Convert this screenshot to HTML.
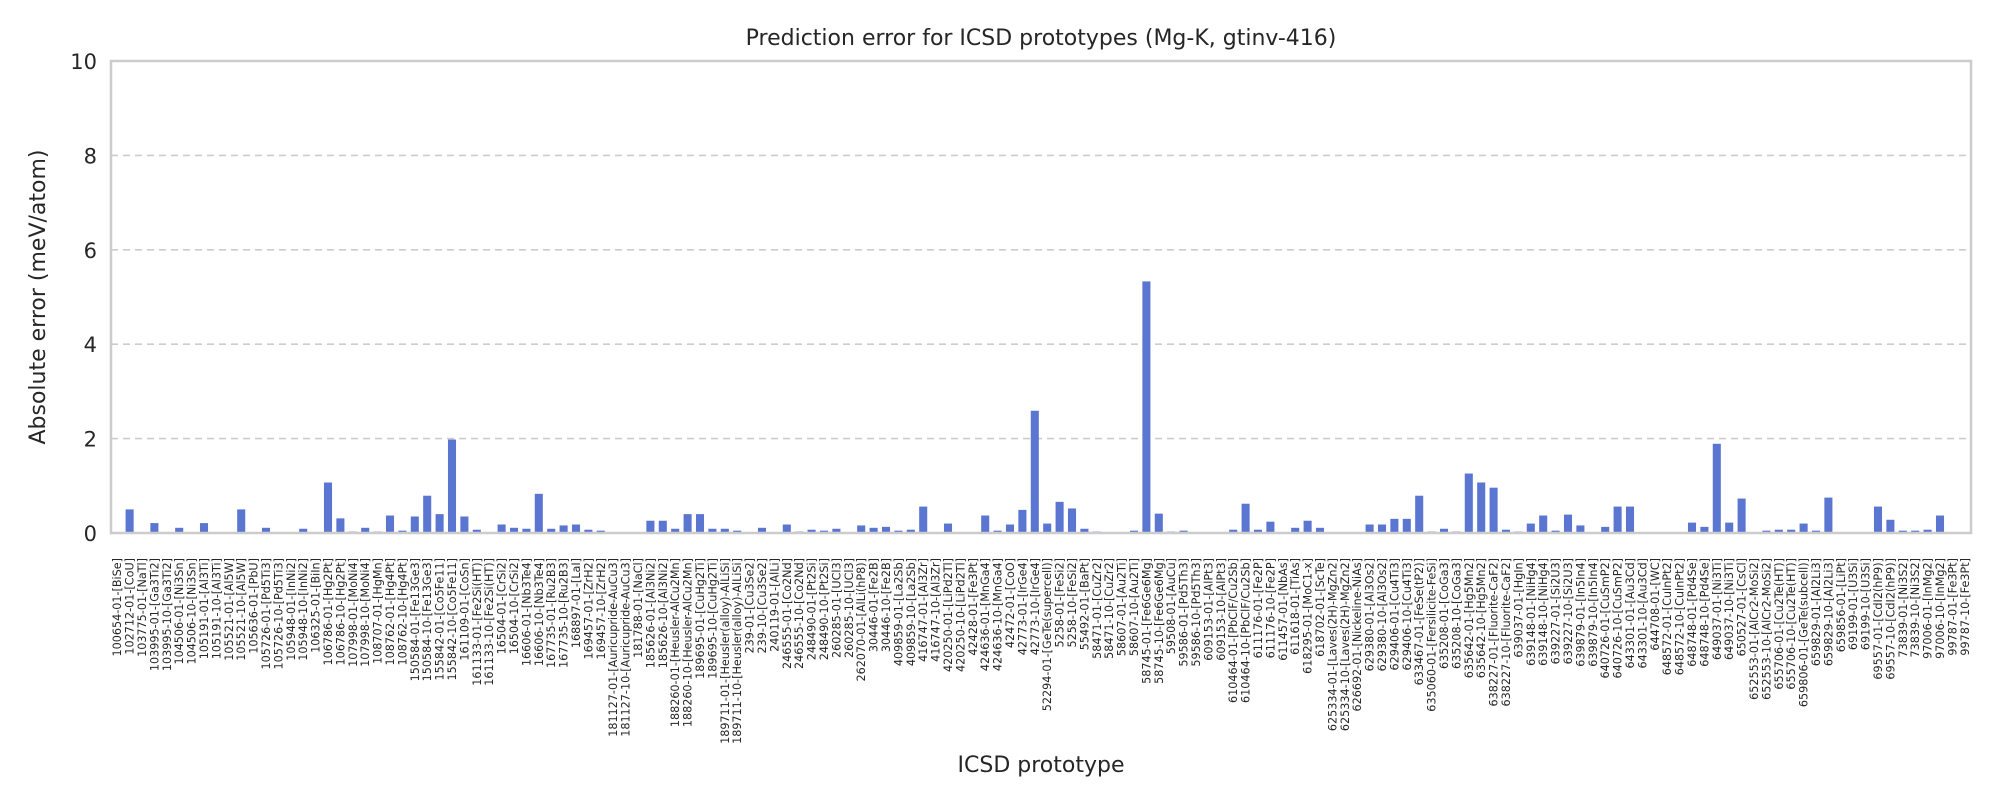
<!DOCTYPE html>
<html><head><meta charset="utf-8">
<style>
html,body{margin:0;padding:0;background:#fff;}
svg{display:block;font-family:"DejaVu Sans","Liberation Sans",sans-serif;}
</style></head>
<body>
<svg id="chart" width="2000" height="800" viewBox="0 0 2000 800" xmlns="http://www.w3.org/2000/svg">
<text x="1041" y="45" font-size="22" text-anchor="middle" fill="#262626">Prediction error for ICSD prototypes (Mg-K, gtinv-416)</text>
<text transform="translate(45,297) rotate(-90)" font-size="22" text-anchor="middle" fill="#262626">Absolute error (meV/atom)</text>
<text x="1041" y="772" font-size="22" text-anchor="middle" fill="#262626">ICSD prototype</text>
<g id="grid"></g>
<g id="bars"></g>
<g id="yticks"></g>
<g id="xticks"></g>
<rect x="111" y="61" width="1860" height="472" fill="none" stroke="#cccccc" stroke-width="2.5"/>
</svg>
<script>
const categories = ["100654-01-[BiSe]","102712-01-[CoU]","103775-01-[NaTl]","103995-01-[Ga3Ti2]","103995-10-[Ga3Ti2]","104506-01-[Ni3Sn]","104506-10-[Ni3Sn]","105191-01-[Al3Ti]","105191-10-[Al3Ti]","105521-01-[Al5W]","105521-10-[Al5W]","105636-01-[PbU]","105726-01-[Pd5Ti3]","105726-10-[Pd5Ti3]","105948-01-[InNi2]","105948-10-[InNi2]","106325-01-[BiIn]","106786-01-[Hg2Pt]","106786-10-[Hg2Pt]","107998-01-[MoNi4]","107998-10-[MoNi4]","108707-01-[HgMn]","108762-01-[Hg4Pt]","108762-10-[Hg4Pt]","150584-01-[Fe13Ge3]","150584-10-[Fe13Ge3]","155842-01-[Co5Fe11]","155842-10-[Co5Fe11]","161109-01-[CoSn]","161133-01-[Fe2Si(HT)]","161133-10-[Fe2Si(HT)]","16504-01-[CrSi2]","16504-10-[CrSi2]","16606-01-[Nb3Te4]","16606-10-[Nb3Te4]","167735-01-[Ru2B3]","167735-10-[Ru2B3]","168897-01-[LaI]","169457-01-[ZrH2]","169457-10-[ZrH2]","181127-01-[Auricupride-AuCu3]","181127-10-[Auricupride-AuCu3]","181788-01-[NaCl]","185626-01-[Al3Ni2]","185626-10-[Al3Ni2]","188260-01-[Heusler-AlCu2Mn]","188260-10-[Heusler-AlCu2Mn]","189695-01-[CuHg2Ti]","189695-10-[CuHg2Ti]","189711-01-[Heusler(alloy)-AlLiSi]","189711-10-[Heusler(alloy)-AlLiSi]","239-01-[Cu3Se2]","239-10-[Cu3Se2]","240119-01-[AlLi]","246555-01-[Co2Nd]","246555-10-[Co2Nd]","248490-01-[Pt2Si]","248490-10-[Pt2Si]","260285-01-[UCl3]","260285-10-[UCl3]","262070-01-[AlLi(hP8)]","30446-01-[Fe2B]","30446-10-[Fe2B]","409859-01-[La2Sb]","409859-10-[La2Sb]","416747-01-[Al3Zr]","416747-10-[Al3Zr]","420250-01-[LiPd2Tl]","420250-10-[LiPd2Tl]","42428-01-[Fe3Pt]","424636-01-[MnGa4]","424636-10-[MnGa4]","42472-01-[CoO]","42773-01-[IrGe4]","42773-10-[IrGe4]","52294-01-[GeTe(supercell)]","5258-01-[FeSi2]","5258-10-[FeSi2]","55492-01-[BaPt]","58471-01-[CuZr2]","58471-10-[CuZr2]","58607-01-[Au2Ti]","58607-10-[Au2Ti]","58745-01-[Fe6Ge6Mg]","58745-10-[Fe6Ge6Mg]","59508-01-[AuCu]","59586-01-[Pd5Th3]","59586-10-[Pd5Th3]","609153-01-[AlPt3]","609153-10-[AlPt3]","610464-01-[PbClF/Cu2Sb]","610464-10-[PbClF/Cu2Sb]","611176-01-[Fe2P]","611176-10-[Fe2P]","611457-01-[NbAs]","611618-01-[TiAs]","618295-01-[MoC1-x]","618702-01-[ScTe]","625334-01-[Laves(2H)-MgZn2]","625334-10-[Laves(2H)-MgZn2]","626692-01-[Nickeline-NiAs]","629380-01-[Al3Os2]","629380-10-[Al3Os2]","629406-01-[Cu4Ti3]","629406-10-[Cu4Ti3]","633467-01-[FeSe(tP2)]","635060-01-[Fersilicite-FeSi]","635208-01-[CoGa3]","635208-10-[CoGa3]","635642-01-[Hg5Mn2]","635642-10-[Hg5Mn2]","638227-01-[Fluorite-CaF2]","638227-10-[Fluorite-CaF2]","639037-01-[HgIn]","639148-01-[NiHg4]","639148-10-[NiHg4]","639227-01-[Si2U3]","639227-10-[Si2U3]","639879-01-[In5In4]","639879-10-[In5In4]","640726-01-[CuSmP2]","640726-10-[CuSmP2]","643301-01-[Au3Cd]","643301-10-[Au3Cd]","644708-01-[WC]","648572-01-[CuInPt2]","648572-10-[CuInPt2]","648748-01-[Pd4Se]","648748-10-[Pd4Se]","649037-01-[Ni3Ti]","649037-10-[Ni3Ti]","650527-01-[CsCl]","652553-01-[AlCr2-MoSi2]","652553-10-[AlCr2-MoSi2]","655706-01-[Cu2Te(HT)]","655706-10-[Cu2Te(HT)]","659806-01-[GeTe(subcell)]","659829-01-[Al2Li3]","659829-10-[Al2Li3]","659856-01-[LiPt]","69199-01-[U3Si]","69199-10-[U3Si]","69557-01-[CdI2(hP9)]","69557-10-[CdI2(hP9)]","73839-01-[Ni3S2]","73839-10-[Ni3S2]","97006-01-[InMg2]","97006-10-[InMg2]","99787-01-[Fe3Pt]","99787-10-[Fe3Pt]"];
const errors = [0,0.5,0,0.21,0.02,0.11,0,0.21,0,0,0.5,0,0.11,0,0,0.09,0,1.07,0.31,0.03,0.11,0.03,0.37,0.05,0.35,0.79,0.40,1.98,0.35,0.07,0,0.18,0.11,0.09,0.83,0.09,0.16,0.18,0.07,0.05,0.01,0.01,0,0.26,0.26,0.09,0.40,0.40,0.09,0.09,0.05,0,0.11,0,0.18,0.03,0.07,0.05,0.09,0,0.16,0.11,0.13,0.05,0.07,0.56,0,0.20,0.01,0,0.37,0.05,0.18,0.49,2.59,0.20,0.66,0.52,0.09,0.03,0,0,0.05,5.33,0.41,0.03,0.05,0,0,0,0.07,0.62,0.07,0.24,0,0.11,0.26,0.11,0,0,0,0.18,0.18,0.30,0.30,0.79,0.03,0.09,0.03,1.26,1.07,0.96,0.07,0.03,0.20,0.37,0.05,0.39,0.16,0,0.13,0.56,0.56,0,0,0,0,0.22,0.13,1.89,0.22,0.73,0,0.05,0.07,0.07,0.20,0.05,0.75,0,0,0,0.56,0.28,0.05,0.05,0.07,0.37,0,0];
const yTicks = [0,2,4,6,8,10];

const NS = "http://www.w3.org/2000/svg";
const L = 111, R = 1971, T = 61, B = 533, YMAX = 10;
const step = (R - L) / categories.length;
function xScale(i){ return L + step * (i + 0.5); }
function yScale(v){ return B - (v / YMAX) * (B - T); }
function mk(tag, attrs){ const e = document.createElementNS(NS, tag); for (const k in attrs) e.setAttribute(k, attrs[k]); return e; }

const grid = document.getElementById('grid');
const yt = document.getElementById('yticks');
yTicks.forEach(v => {
  if (v > 0 && v < YMAX) {
    const ln = mk('line', {x1:L, x2:R, y1:yScale(v), y2:yScale(v), stroke:'#cccccc', 'stroke-width':1.6, 'stroke-dasharray':'7,5'});
    
    
    grid.appendChild(ln);
  }
  const t = mk('text', {x:L - 14, y:yScale(v) + 8, 'font-size':21, 'text-anchor':'end', fill:'#262626'});
  t.textContent = v;
  
  
  yt.appendChild(t);
});

const bars = document.getElementById('bars');
const xt = document.getElementById('xticks');
const bw = step * 0.65;
categories.forEach((c, i) => {
  const v = errors[i];
  const r = mk('rect', {x:xScale(i) - bw/2, y:yScale(v), width:bw, height:B - yScale(v), fill:'#5a76d1'});
  
  
  bars.appendChild(r);
  const t = mk('text', {transform:'translate(' + (xScale(i) + 4) + ',558) rotate(-90)', 'font-size':11.2, 'text-anchor':'end', fill:'#262626'});
  t.textContent = c;
  
  
  xt.appendChild(t);
});
</script>
</body></html>
